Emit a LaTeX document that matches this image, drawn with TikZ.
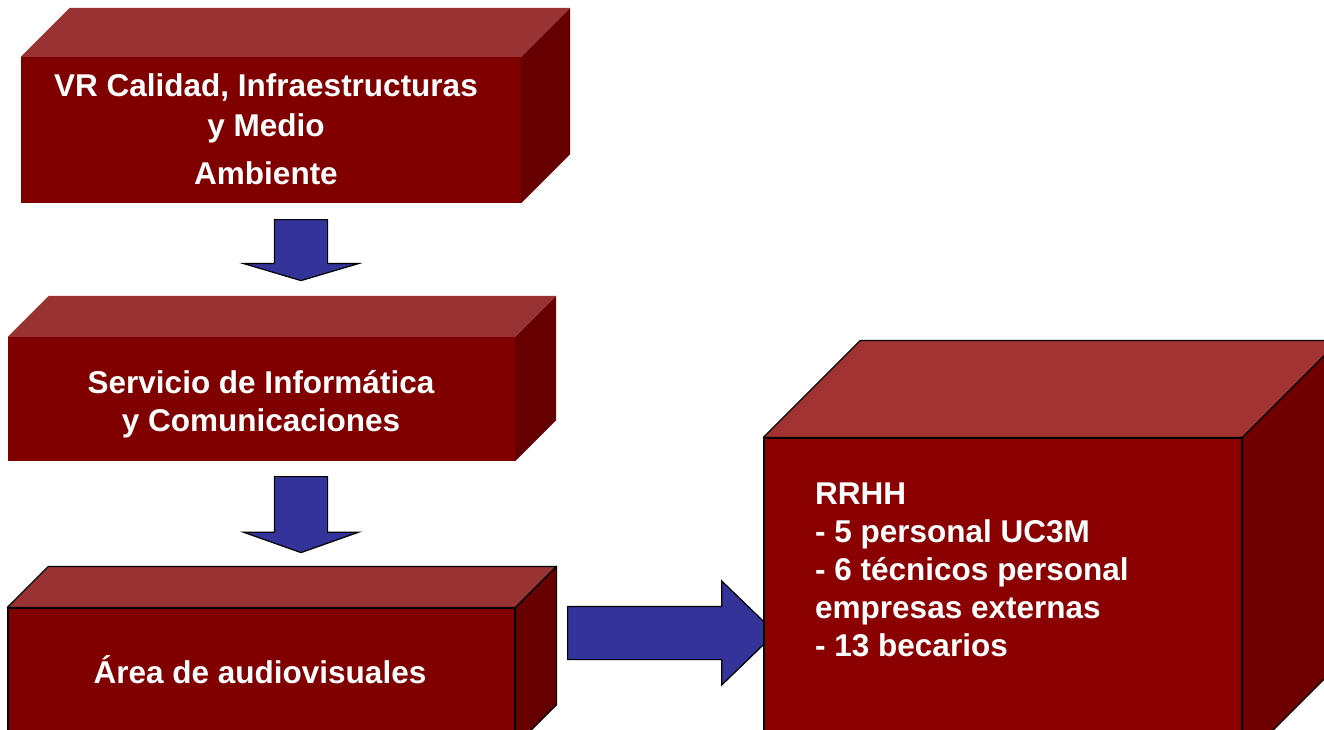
\documentclass[tikz,border=0pt]{standalone}
\usepackage{fontspec}
\setmainfont{Liberation Sans}
\usetikzlibrary{shapes.arrows}
\usetikzlibrary{calc}
\definecolor{frontred}{RGB}{128,0,0}
\definecolor{topred}{RGB}{153,51,51}
\definecolor{sidered}{RGB}{102,0,0}
\definecolor{frontredb}{RGB}{139,0,0}
\definecolor{topredb}{RGB}{163,51,51}
\definecolor{sideredb}{RGB}{112,0,0}
\definecolor{arrowblue}{RGB}{51,51,153}
\tikzset{
    boxfront/.style = {rectangle, inner sep=0pt, fill=frontred},
    boxfrontb/.style = {rectangle, inner sep=0pt, fill=frontredb},
    boxtop/.style = {fill=topred},
    boxtopb/.style = {fill=topredb},
    boxside/.style = {fill=sidered},
    boxsideb/.style = {fill=sideredb},
    outlined/.style = {draw=black, line width=1.2pt, line join=round},
    boxtext/.style = {inner sep=0pt, text=white, font=\bfseries\fontsize{31.5}{38}\selectfont},
    blockarrow/.style = {single arrow, draw=black, line width=1.2pt, fill=arrowblue, inner sep=0pt,
        text height=52pt, text depth=0pt, single arrow head extend=31pt, minimum width=114pt}
}
% top and right faces of a box drawn from its front node
\newcommand{\boxfaces}[4]{%
  \path[#3] (#1.north west) -- ++(#2,-#2) -- ($(#1.north east)+(#2,-#2)$) -- (#1.north east) -- cycle;
  \path[#4] (#1.north east) -- ($(#1.north east)+(#2,-#2)$) -- ($(#1.south east)+(#2,-#2)$) -- (#1.south east) -- cycle;
}
\begin{document}
\begin{tikzpicture}[x=1pt, y=-1pt]
  \clip (0,0) rectangle (1324,730);

  % arrows
  \node[blockarrow, anchor=tail, rotate=-90, minimum height=61pt, single arrow tip angle=147] (a1) at (301,219) {};
  \node[blockarrow, anchor=tail, rotate=-90, minimum height=76pt, single arrow tip angle=141] (a2) at (301,476) {};
  \node[blockarrow, anchor=tail, minimum height=208pt, minimum width=103pt,
        single arrow head extend=25.5pt, single arrow tip angle=88] (a3) at (567,633) {};

  % boxes
  \node[boxfront, minimum width=500pt, minimum height=146pt] (vr) at (271,130) {};
  \boxfaces{vr}{49}{boxtop}{boxside}
  \node[boxtext, align=center, anchor=base] (vrtext) at (266,185)
    {VR Calidad, Infraestructuras\\[2pt] y Medio\\[10pt] Ambiente};

  \node[boxfront, minimum width=507pt, minimum height=124pt] (sic) at (261.5,399) {};
  \boxfaces{sic}{41}{boxtop}{boxside}
  \node[boxtext, align=center, anchor=base] (sictext) at (261,431)
    {Servicio de Informática\\ y Comunicaciones};

  \node[boxfront, outlined, minimum width=507pt, minimum height=137pt] (av) at (261.5,676.5) {};
  \boxfaces{av}{41}{boxtop, outlined}{boxside, outlined}
  \node[boxtext, anchor=base] (avtext) at (260,683) {Área de audiovisuales};

  \node[boxfrontb, outlined, minimum width=478pt, minimum height=322pt] (rrhh) at (1003,599) {};
  \boxfaces{rrhh}{97}{boxtopb, outlined}{boxsideb, outlined}
  \node[boxtext, align=left, anchor=base west] (rrhhtext) at (815,656)
    {RRHH\\ - 5 personal UC3M\\ - 6 técnicos personal\\ empresas externas\\ - 13 becarios};
\end{tikzpicture}
\end{document}
